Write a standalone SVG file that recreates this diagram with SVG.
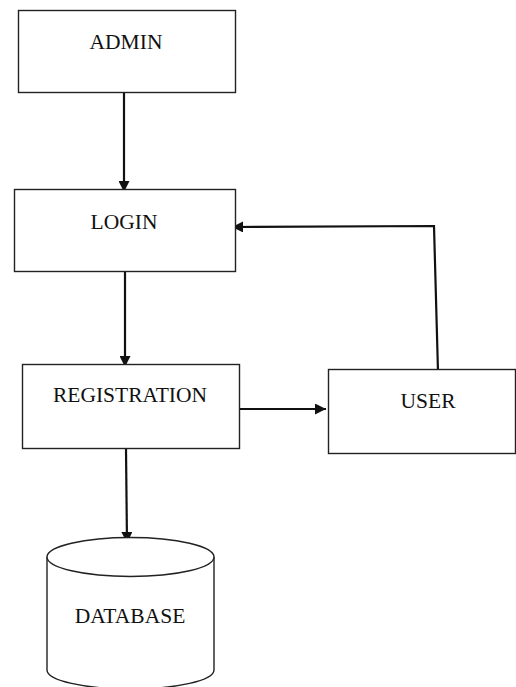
<svg xmlns="http://www.w3.org/2000/svg" width="516" height="687" viewBox="0 0 516 687">
<style>
.box{fill:#fff;stroke:#222;stroke-width:1.4}
.lbl{font-family:"Liberation Serif","Times New Roman",serif;font-size:21.5px;fill:#111;text-anchor:middle}
.con{fill:none;stroke:#111;stroke-width:2.2;marker-end:url(#ah)}
</style>
<defs>
<marker id="ah" viewBox="0 0 10 10" refX="10" refY="5" markerWidth="5.5" markerHeight="5" markerUnits="strokeWidth" orient="auto">
<path d="M0,0 L10,5 L0,10 z" fill="#111"/>
</marker>
</defs>
<rect width="516" height="687" fill="#fff"/>
<g id="connectors">
<path class="con" d="M124,93 L124,192"/>
<path class="con" d="M125,272 L125,367"/>
<path class="con" d="M240,409 L326,409"/>
<path class="con" d="M438,372 L434,226 L232,227"/>
<path class="con" d="M126,449 L127,543"/>
</g>
<g id="admin">
<rect class="box" x="18.5" y="10.5" width="217" height="82"/>
<text class="lbl" x="126" y="49">ADMIN</text>
</g>
<g id="login">
<rect class="box" x="14.5" y="189.5" width="221" height="82"/>
<text class="lbl" x="124" y="229">LOGIN</text>
</g>
<g id="registration">
<rect class="box" x="22.5" y="364.5" width="217" height="84"/>
<text class="lbl" x="130" y="402">REGISTRATION</text>
</g>
<g id="user">
<rect class="box" x="328.5" y="369.5" width="187" height="84"/>
<text class="lbl" x="428" y="408">USER</text>
</g>
<g id="database">
<path class="box" d="M47,557 L47,670 A83.5,19 0 0 0 214,670 L214,557"/>
<ellipse class="box" cx="130.5" cy="557" rx="83.5" ry="19.5"/>
<text class="lbl" x="130" y="623">DATABASE</text>
</g>
</svg>
